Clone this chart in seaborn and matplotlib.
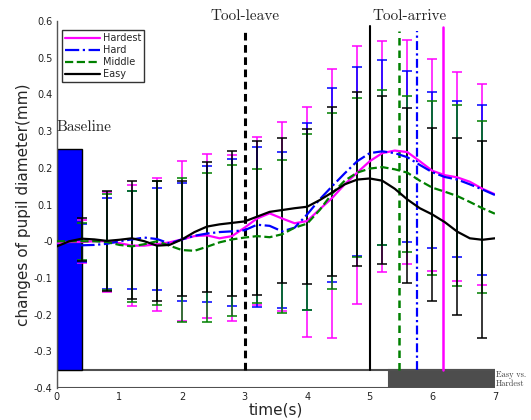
import numpy as np
import pandas as pd
import matplotlib
matplotlib.use("Agg")
import matplotlib.pyplot as plt
import seaborn as sns
from matplotlib.patches import Rectangle
from matplotlib.lines import Line2D

# time axis of the curves (s)
t = np.round(np.arange(0, 7.01, 0.2), 1)

hardest = [-0.006, -0.002, -0.002, 0.000, 0.000, -0.005, -0.012, -0.012, -0.008, -0.003,
           0.005, 0.014, 0.016, 0.008, 0.014, 0.037, 0.062, 0.076, 0.062, 0.049,
           0.055, 0.087, 0.118, 0.155, 0.187, 0.218, 0.240, 0.247, 0.243, 0.218,
           0.192, 0.180, 0.174, 0.162, 0.143, 0.128]
hard = [-0.010, -0.012, -0.011, -0.010, -0.007, 0.000, 0.005, 0.010, 0.006, -0.006,
        0.005, 0.015, 0.021, 0.025, 0.027, 0.030, 0.045, 0.042, 0.027, 0.037,
        0.073, 0.114, 0.150, 0.185, 0.218, 0.240, 0.245, 0.240, 0.229, 0.208,
        0.188, 0.175, 0.168, 0.155, 0.141, 0.126]
middle = [0.000, 0.000, 0.000, 0.000, -0.002, -0.010, -0.014, -0.008, 0.000, -0.012,
          -0.024, -0.026, -0.015, -0.003, 0.005, 0.010, 0.014, 0.011, 0.019, 0.037,
          0.048, 0.085, 0.130, 0.165, 0.187, 0.198, 0.202, 0.196, 0.187, 0.165,
          0.146, 0.135, 0.123, 0.107, 0.090, 0.075]
easy = [-0.014, 0.000, 0.007, 0.005, 0.001, 0.004, 0.008, 0.000, -0.012, -0.010,
        0.005, 0.025, 0.040, 0.046, 0.050, 0.054, 0.067, 0.080, 0.085, 0.090,
        0.094, 0.112, 0.133, 0.155, 0.168, 0.171, 0.165, 0.143, 0.114, 0.090,
        0.073, 0.052, 0.026, 0.008, 0.004, 0.008]

# error bar times and cap values (upper / lower)
t_err = np.round(np.arange(0.4, 6.81, 0.4), 1)
hardest_hi = [0.057, 0.134, 0.152, 0.171, 0.218, 0.239, 0.234, 0.285, 0.324, 0.366, 0.470, 0.533, 0.546, 0.549, 0.496, 0.460, 0.429]
hardest_lo = [-0.060, -0.138, -0.177, -0.189, -0.217, -0.210, -0.218, -0.175, -0.190, -0.262, -0.264, -0.172, -0.085, -0.061, -0.081, -0.108, -0.120]
hard_hi = [0.046, 0.117, 0.137, 0.144, 0.160, 0.205, 0.223, 0.256, 0.243, 0.321, 0.418, 0.476, 0.493, 0.463, 0.406, 0.383, 0.370]
hard_lo = [-0.056, -0.130, -0.130, -0.133, -0.163, -0.165, -0.176, -0.178, -0.183, -0.188, -0.111, -0.040, -0.011, -0.002, -0.019, -0.044, -0.092]
middle_hi = [0.051, 0.128, 0.137, 0.164, 0.171, 0.185, 0.209, 0.197, 0.221, 0.293, 0.350, 0.390, 0.411, 0.395, 0.383, 0.372, 0.327]
middle_lo = [-0.050, -0.132, -0.166, -0.173, -0.220, -0.220, -0.203, -0.169, -0.196, -0.188, -0.130, -0.044, -0.011, -0.029, -0.092, -0.121, -0.142]
easy_hi = [0.062, 0.137, 0.164, 0.164, 0.163, 0.217, 0.245, 0.273, 0.281, 0.306, 0.366, 0.406, 0.395, 0.363, 0.309, 0.282, 0.273]
easy_lo = [-0.053, -0.136, -0.157, -0.163, -0.149, -0.139, -0.149, -0.147, -0.114, -0.117, -0.096, -0.067, -0.062, -0.114, -0.163, -0.201, -0.264]

labels = ["Hardest", "Hard", "Middle", "Easy"]
colors = ["#ff00ff", "#0000ff", "#008000", "#000000"]
styles = ["-", "-.", "--", "-"]

# event markers
tool_leave = 3.0
tool_arrive = [5.0, 5.46, 5.76, 6.17]   # easy, middle, hard, hardest
baseline_end = 0.4
baseline_height = 0.25
sig_start = 5.3

sns.set_style("white")
plt.rcParams["font.family"] = ["DejaVu Sans"]

fig = plt.figure(figsize=(5.31, 4.2), dpi=100)
ax = fig.add_axes([0.107, 0.076, 0.825, 0.874])

# baseline bar
ax.add_patch(Rectangle((0, -0.35), baseline_end, baseline_height + 0.35,
                       facecolor="#0000ff", edgecolor="black", lw=1, zorder=2))
ax.text(0, 0.31, "Baseline", fontfamily="cmr10", fontsize=11, ha="left", va="center")

series = [(hardest, hardest_hi, hardest_lo), (hard, hard_hi, hard_lo),
          (middle, middle_hi, middle_lo), (easy, easy_hi, easy_lo)]

# error bars
for (vals, hi, lo), c in zip(series, colors):
    hi = np.array(hi)
    lo = np.array(lo)
    mid = (hi + lo) / 2
    ax.errorbar(t_err, mid, yerr=(hi - lo) / 2, fmt="none", ecolor=c,
                elinewidth=1.1, capsize=3.5, capthick=1.1, zorder=3)

# curves
for (vals, hi, lo), c, ls, lab in zip(series, colors, styles, labels):
    sns.lineplot(x=t, y=vals, color=c, linestyle=ls, lw=1.6, ax=ax, zorder=5, legend=False)

# event lines
ax.plot([tool_leave, tool_leave], [-0.35, 0.574], color="black", ls=(0, (2.5, 1.5)), lw=2.2, zorder=4)
ax.plot([tool_arrive[0]] * 2, [-0.35, 0.587], color="black", ls="-", lw=1.5, zorder=4)
ax.plot([tool_arrive[1]] * 2, [-0.35, 0.574], color="#008000", ls=(0, (3, 2)), lw=1.8, zorder=4)
ax.plot([tool_arrive[2]] * 2, [-0.35, 0.574], color="#0000ff", ls=(0, (4, 1.5, 1, 1.5)), lw=1.6, zorder=4)
ax.plot([tool_arrive[3]] * 2, [-0.35, 0.585], color="#ff00ff", ls="-", lw=1.8, zorder=4)

ax.text(tool_leave, 0.613, "Tool-leave", fontfamily="cmr10", fontsize=11, ha="center", va="center")
ax.text(5.64, 0.613, "Tool-arrive", fontfamily="cmr10", fontsize=11, ha="center", va="center")

# significance bar at the bottom
ax.add_patch(Rectangle((0, -0.4), 7, 0.05, facecolor="white", edgecolor="#505050", lw=1.5, zorder=1.5))
ax.add_patch(Rectangle((sig_start, -0.4), 7 - sig_start, 0.05, facecolor="#4d4d4d",
                       edgecolor="#505050", lw=1.5, zorder=1.6))
ax.text(7.02, -0.375, "Easy vs.\nHardest", fontfamily="cmr10", fontsize=6, ha="left",
        va="center", color="#404040", linespacing=1.1)

ax.set_xlim(0, 7)
ax.set_ylim(-0.4, 0.6)
ax.set_xticks(range(8))
yt = np.round(np.arange(-0.4, 0.61, 0.1), 1)
ax.set_yticks(yt)
ax.set_yticklabels([f"{v:g}" for v in yt])
ax.tick_params(direction="in", length=3, labelsize=7, width=0.8, colors="#222222", pad=3)
for s in ["top", "right", "bottom"]:
    ax.spines[s].set_visible(False)
ax.spines["left"].set_color("#555555")
ax.spines["left"].set_linewidth(1.0)
ax.set_xlabel("time(s)", fontsize=11, labelpad=0)
ax.set_ylabel("changes of pupil diameter(mm)", fontsize=11, labelpad=2)

handles = [Line2D([], [], color=c, ls=ls, lw=1.6) for c, ls in zip(colors, styles)]
leg = ax.legend(handles, labels, loc="upper left", bbox_to_anchor=(0.012, 0.975),
                fontsize=7, frameon=True, fancybox=False, handlelength=3.6,
                borderpad=0.3, labelspacing=0.2, handletextpad=0.3, borderaxespad=0)
leg.get_frame().set_edgecolor("black")
leg.get_frame().set_linewidth(1.0)

fig.savefig("out.png", dpi=100)
